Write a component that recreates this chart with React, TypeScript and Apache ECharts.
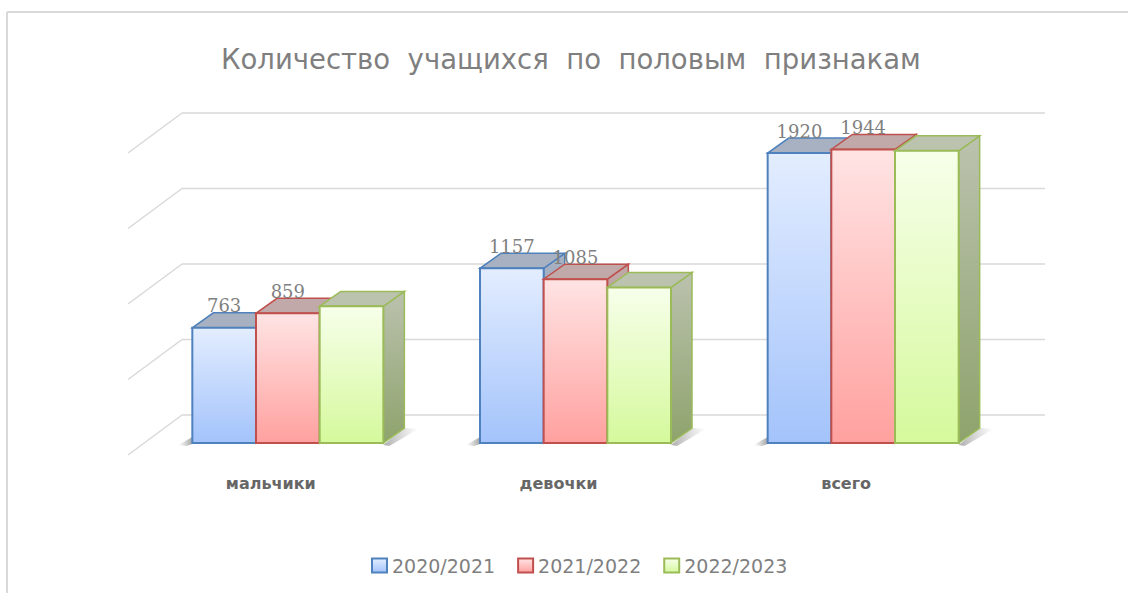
import React, { useEffect, useRef } from "react";
import * as echarts from "echarts";

const categories = ["мальчики", "девочки", "всего"];
const seriesNames = ["2020/2021", "2021/2022", "2022/2023"];
const values2020 = [763, 1157, 1920];
const values2021 = [859, 1085, 1944];
const values2022 = [905, 1030, 1935];
const showLabels = [true, true, false];
const gridTicks = [0, 500, 1000, 1500, 2000];
const titleText = "Количество  учащихся  по  половым  признакам";

const palette = [
  { top: "#e3edff", bottom: "#a3c3fb", border: "#4f81bd", cap: "#a7b1c1", side: "#8e9ab0" },
  { top: "#ffe4e4", bottom: "#ffa19f", border: "#c0504d", cap: "#c2a9a9", side: "#a88f8f" },
  { top: "#f7ffea", bottom: "#d5f99c", border: "#9bbb59", cap: "#bbc2ae", side: "#8ea36c" },
];

const allValues = [values2020, values2021, values2022];

function makeBarRender(si: number) {
  return (params: any, api: any) => {
    const cat = api.value(0);
    const val = api.value(1);
    const band = api.size([1, 0])[0];
    const top = api.coord([cat, val]);
    const base = api.coord([cat, 0]);
    const groupW = band * 0.664;
    const barW = groupW / 3;
    const x0 = top[0] - groupW / 2 + si * barW;
    const x1 = x0 + barW;
    const yT = top[1];
    const yB = base[1];
    const dx = barW * 0.33;
    const dy = -barW * 0.235;
    const c = palette[si];
    const children: any[] = [];
    if (si === 0) {
      children.push({
        type: "polygon",
        shape: { points: [[x0 - 14, yB + 2], [x0, yB - 6], [x0, yB + 1], [x0 - 6, yB + 3]] },
        style: { fill: new echarts.graphic.LinearGradient(0, 0, 1, 0, [
          { offset: 0, color: "rgba(120,120,120,0)" },
          { offset: 1, color: "rgba(90,90,90,0.55)" },
        ]) },
      });
    }
    if (si === 2) {
      children.push({
        type: "polygon",
        shape: { points: [[x1, yB + 2], [x1 + dx, yB + dy], [x1 + dx + 14, yB + dy + 1], [x1 + 6, yB + 3]] },
        style: { fill: new echarts.graphic.LinearGradient(0, 0, 1, 0, [
          { offset: 0, color: "rgba(90,90,90,0.5)" },
          { offset: 1, color: "rgba(120,120,120,0)" },
        ]) },
      });
    }
    children.push({
      type: "polygon",
      shape: { points: [[x1, yT], [x1 + dx, yT + dy], [x1 + dx, yB + dy], [x1, yB]] },
      style: {
        fill: new echarts.graphic.LinearGradient(0, 0, 0, 1, [
          { offset: 0, color: c.cap },
          { offset: 1, color: c.side },
        ]),
        stroke: c.border,
        lineWidth: 1.5,
      },
    });
    children.push({
      type: "polygon",
      shape: { points: [[x0, yT], [x1, yT], [x1 + dx, yT + dy], [x0 + dx, yT + dy]] },
      style: { fill: c.cap, stroke: c.border, lineWidth: 1.5 },
    });
    children.push({
      type: "rect",
      shape: { x: x0, y: yT, width: barW, height: yB - yT },
      style: {
        fill: new echarts.graphic.LinearGradient(0, 0, 0, 1, [
          { offset: 0, color: c.top },
          { offset: 1, color: c.bottom },
        ]),
        stroke: c.border,
        lineWidth: 2,
      },
    });
    if (showLabels[si]) {
      children.push({
        type: "text",
        style: {
          text: String(val),
          x: x0 + barW / 2,
          y: yT + dy + 2,
          align: "center",
          verticalAlign: "bottom",
          fill: "#7f7f7f",
          font: '18px "DejaVu Serif"',
        },
      });
    }
    return { type: "group", children };
  };
}

function gridRender(params: any, api: any) {
  const v = api.value(0);
  const cs = params.coordSys;
  const p = api.coord([0, v]);
  const y = p[1];
  const left = cs.x;
  const right = cs.x + cs.width;
  const style = { stroke: "#d9d9d9", lineWidth: 1.5 };
  return {
    type: "group",
    children: [
      { type: "line", shape: { x1: left + 38, y1: y - 28, x2: right + 38, y2: y - 28 }, style },
      { type: "line", shape: { x1: left + 38, y1: y - 28, x2: left - 16, y2: y + 12 }, style },
    ],
  };
}

export default function App() {
  const ref = useRef<HTMLDivElement>(null);
  useEffect(() => {
    if (!ref.current) return;
    const chart = echarts.init(ref.current, undefined, { renderer: "svg" });
    const barSeries = allValues.map((vals, si) => ({
      type: "custom",
      name: seriesNames[si],
      renderItem: makeBarRender(si),
      data: vals.map((v, i) => [i, v]),
      z: 3 + si,
      itemStyle: { color: palette[si].bottom, borderColor: palette[si].border },
      encode: { x: 0, y: 1 },
    }));
    chart.setOption({
      animation: false,
      backgroundColor: "#ffffff",
      title: {
        text: titleText,
        left: 216,
        top: 40,
        textStyle: { color: "#7f7f7f", fontSize: 27.5, fontWeight: "normal", fontFamily: "DejaVu Sans" },
      },
      legend: {
        bottom: 13,
        left: 366,
        itemWidth: 15,
        itemHeight: 14,
        itemGap: 22,
        icon: "rect",
        textStyle: { color: "#7f7f7f", fontSize: 19, fontFamily: "DejaVu Sans" },
        data: seriesNames.map((n, si) => ({
          name: n,
          itemStyle: {
            color: new echarts.graphic.LinearGradient(0, 0, 0, 1, [
              { offset: 0, color: palette[si].top },
              { offset: 1, color: palette[si].bottom },
            ]),
            borderColor: palette[si].border,
            borderWidth: 2,
          },
        })),
      },
      grid: { left: 144, right: 121, top: 141, bottom: 150 },
      xAxis: {
        type: "category",
        data: categories,
        axisLine: { show: false },
        axisTick: { show: false },
        splitLine: { show: false },
        axisLabel: {
          margin: 32,
          color: "#666666",
          fontSize: 16,
          fontWeight: "bold",
          fontFamily: "DejaVu Sans",
          padding: [0, 34, 0, 0],
        },
      },
      yAxis: {
        type: "value",
        min: 0,
        max: 2000,
        interval: 500,
        show: false,
      },
      series: [
        {
          type: "custom",
          name: "grid",
          renderItem: gridRender,
          data: gridTicks.map((t) => [t]),
          encode: { y: 0 },
          z: 1,
          silent: true,
        },
        ...barSeries,
      ],
      graphic: [
        { type: "line", shape: { x1: 7, y1: 12, x2: 1128, y2: 12 }, style: { stroke: "#d9d9d9", lineWidth: 2 } },
        { type: "line", shape: { x1: 7, y1: 12, x2: 7, y2: 593 }, style: { stroke: "#d9d9d9", lineWidth: 2 } },
      ],
    });
    return () => chart.dispose();
  }, []);
  return (
    <div
      ref={ref}
      style={{ position: "fixed", left: 0, top: 0, width: 1128, height: 593 }}
    />
  );
}
